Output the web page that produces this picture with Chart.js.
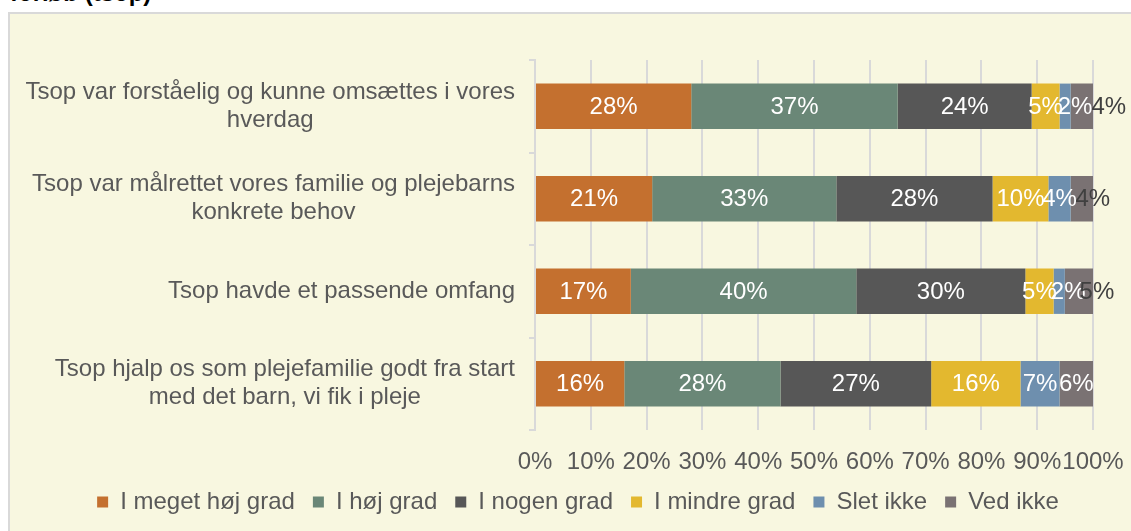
<!DOCTYPE html>
<html lang="da">
<head>
<meta charset="utf-8">
<title>Tsop</title>
<script src="https://cdn.jsdelivr.net/npm/chart.js@4.4.1/dist/chart.umd.min.js"></script>
<style>
    body {
        margin: 0;
        width: 1131px;
        height: 531px;
        overflow: hidden;
        background: #ffffff;
        position: relative;
        font-family: "Liberation Sans", Arial, sans-serif;
    }
    .heading {
        position: absolute;
        left: 10px;
        top: -19px;
        font-size: 24px;
        line-height: 24px;
        font-weight: bold;
        color: #000000;
        white-space: nowrap;
    }
    .panel {
        position: absolute;
        left: 8px;
        top: 12px;
        width: 1200px;
        height: 600px;
        background: #f8f7e0;
        border-left: 2px solid #d9d9d9;
        border-top: 2px solid #d9d9d9;
    }
    #myChart {
        position: absolute;
        left: 0;
        top: 0;
    }
</style>
</head>
<body>
<div class="heading">forløb (tsop)</div>
<div class="panel"></div>
<canvas id="myChart" width="1131" height="531"></canvas>
<script>
// Spørgsmål (one row each)
const categories = [
    ['Tsop var forståelig og kunne omsættes i vores', 'hverdag'],
    ['Tsop var målrettet vores familie og plejebarns', 'konkrete behov'],
    ['Tsop havde et passende omfang'],
    ['Tsop hjalp os som plejefamilie godt fra start', 'med det barn, vi fik i pleje']
];

const seriesNames = ['I meget høj grad', 'I høj grad', 'I nogen grad', 'I mindre grad', 'Slet ikke', 'Ved ikke'];

// Svar i procent
const megetHoejGrad = [28, 21, 17, 16];
const hoejGrad = [37, 33, 40, 28];
const nogenGrad = [24, 28, 30, 27];
const mindreGrad = [5, 10, 5, 16];
const sletIkke = [2, 4, 2, 7];
const vedIkke = [4, 4, 5, 6];

const xTicks = [0, 10, 20, 30, 40, 50, 60, 70, 80, 90, 100];

const seriesValues = [megetHoejGrad, hoejGrad, nogenGrad, mindreGrad, sletIkke, vedIkke];
const seriesColors = ['#c4702f', '#6a8777', '#575757', '#e3b82f', '#6e8fae', '#7a7273'];

// label colour + sideways nudge where the small labels overlap
const labelColors = [
    ['#fff', '#fff', '#fff', '#fff'],
    ['#fff', '#fff', '#fff', '#fff'],
    ['#fff', '#fff', '#fff', '#fff'],
    ['#fff', '#fff', '#fff', '#fff'],
    ['#fff', '#fff', '#fff', '#fff'],
    ['#404040', '#404040', '#404040', '#fff']
];
const labelShift = [
    [0, 0, 0, 0],
    [0, 0, 0, 0],
    [0, 0, 0, 0],
    [0, 0, 0, 0],
    [10, 0, 9, 0],
    [27, 11, 18, 0]
];

const FONT = '"Liberation Sans", Arial, sans-serif';
const FONT_SIZE = 24;
const TEXT_COLOR = '#595959';
const PAD_LEFT = 63;

// 100% stacked: every row is scaled by its own total
const rowTotals = categories.map((c, i) => seriesValues.reduce((s, arr) => s + arr[i], 0));

const datasets = seriesNames.map((name, k) => ({
    label: name,
    data: seriesValues[k].map((v, i) => v / rowTotals[i] * 100),
    raw: seriesValues[k],
    backgroundColor: seriesColors[k],
    borderWidth: 0,
    barPercentage: 0.49,
    categoryPercentage: 1
}));

const barLabels = {
    id: 'barLabels',
    afterDatasetsDraw(chart) {
        const ctx = chart.ctx;
        ctx.save();
        ctx.font = FONT_SIZE + 'px ' + FONT;
        ctx.textAlign = 'center';
        ctx.textBaseline = 'middle';
        chart.data.datasets.forEach((ds, k) => {
            chart.getDatasetMeta(k).data.forEach((bar, i) => {
                const x = (bar.x + bar.base) / 2 + labelShift[k][i];
                ctx.fillStyle = labelColors[k][i];
                ctx.fillText(ds.raw[i] + '%', x, bar.y + 1);
            });
        });
        ctx.restore();
    }
};

// category labels: right-aligned block, lines centred inside it
const rowLabels = {
    id: 'rowLabels',
    afterDraw(chart) {
        const ctx = chart.ctx;
        const yScale = chart.scales.y;
        const right = chart.chartArea.left - 20;
        ctx.save();
        ctx.font = FONT_SIZE + 'px ' + FONT;
        ctx.fillStyle = TEXT_COLOR;
        ctx.textAlign = 'center';
        ctx.textBaseline = 'middle';
        categories.forEach((lines, i) => {
            const w = Math.max(...lines.map(l => ctx.measureText(l).width));
            const cx = right - w / 2;
            const y0 = yScale.getPixelForValue(i) - (lines.length - 1) * 28 / 2;
            lines.forEach((l, j) => ctx.fillText(l, cx, y0 + j * 28));
        });
        ctx.restore();
    }
};

const config = {
    type: 'bar',
    data: {
        labels: categories,
        datasets: datasets
    },
    options: {
        indexAxis: 'y',
        responsive: false,
        animation: false,
        devicePixelRatio: 1,
        layout: {
            padding: { top: 60, right: 38, bottom: 7, left: PAD_LEFT }
        },
        scales: {
            x: {
                stacked: true,
                min: 0,
                max: 100,
                afterBuildTicks: scale => {
                    scale.ticks = xTicks.map(v => ({ value: v }));
                },
                // end labels may hang over the padding
                afterFit: scale => {
                    scale.paddingLeft = 0;
                    scale.paddingRight = 0;
                    scale.height = 42;
                },
                ticks: {
                    callback: v => v + '%',
                    color: TEXT_COLOR,
                    font: { family: FONT, size: FONT_SIZE },
                    padding: 18,
                    maxRotation: 0,
                    minRotation: 0,
                    autoSkip: false
                },
                grid: {
                    color: '#d9d9d9',
                    lineWidth: 2,
                    drawTicks: false
                },
                border: { display: false }
            },
            y: {
                stacked: true,
                afterFit: scale => {
                    scale.width = 535 - PAD_LEFT;
                },
                ticks: { display: false },
                grid: {
                    offset: true,
                    drawOnChartArea: false,
                    drawTicks: true,
                    tickLength: 6,
                    color: '#d9d9d9',
                    lineWidth: 2
                },
                border: { display: true, color: '#d9d9d9', width: 2 }
            }
        },
        plugins: {
            tooltip: { enabled: false },
            legend: {
                display: true,
                position: 'bottom',
                labels: {
                    boxWidth: 11,
                    boxHeight: 11,
                    padding: 18,
                    color: TEXT_COLOR,
                    font: { family: FONT, size: FONT_SIZE }
                }
            }
        }
    },
    plugins: [barLabels, rowLabels]
};

const myChart = new Chart(
    document.getElementById('myChart'),
    config
);
</script>
</body>
</html>
